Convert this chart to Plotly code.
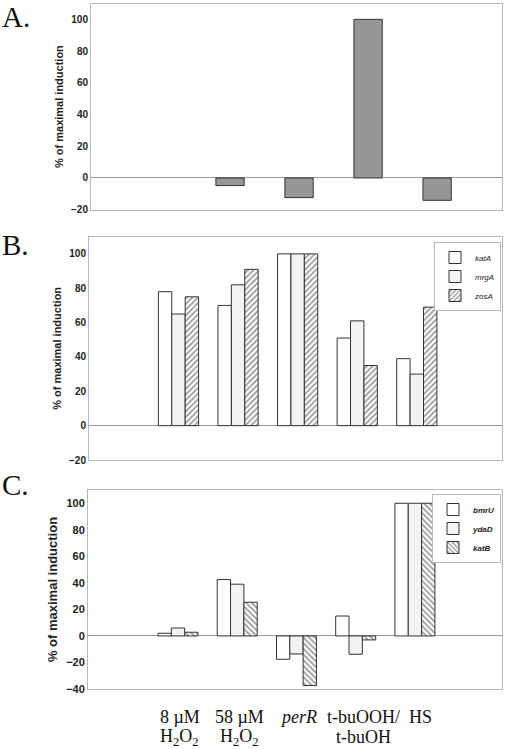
import plotly.graph_objects as go

categories = ["8 µM H2O2", "58 µM H2O2", "perR", "t-buOOH/t-buOH", "HS"]
label_line1 = ["8 µM", "58 µM", "<i>perR</i>", "t-buOOH/", "HS"]
label_line2 = ["H<sub>2</sub>O<sub>2</sub>", "H<sub>2</sub>O<sub>2</sub>", "", "t-buOH", ""]

# Panel A
a_values = [None, -4.8, -12.4, 100, -14.1]

# Panel B
b_katA = [78, 70, 100, 51, 39]
b_mrgA = [65, 82, 100, 61, 30]
b_zosA = [75, 91, 100, 35, 69]

# Panel C
c_bmrU = [2, 42.5, -17.6, 15, 100]
c_ydaD = [6, 39, -13.6, -13.8, 100]
c_katB = [2.8, 25.4, -37.4, -3, 100]

W, H = 507, 749
def xd(a, b):
    return [a / W, b / W]
def yd(top, bottom):
    return [1 - bottom / H, 1 - top / H]

fig = go.Figure()
outline = dict(color="#333333", width=1)

fig.add_trace(go.Bar(x=categories, y=a_values, xaxis="x", yaxis="y",
                     marker=dict(color="#969696", line=outline),
                     width=0.41, showlegend=False))

bw = 0.225
specs_b = [("<i>katA</i>", b_katA, dict(color="white", line=outline)),
           ("<i>mrgA</i>", b_mrgA, dict(color="#f3f3f3", line=outline)),
           ("<i>zosA</i>", b_zosA, dict(color="white", line=outline,
                                        pattern=dict(shape="/", fgcolor="#333333", bgcolor="white",
                                                     size=4, solidity=0.45)))]
for i, (name, vals, mk) in enumerate(specs_b):
    fig.add_trace(go.Bar(x=categories, y=vals, name=name, xaxis="x2", yaxis="y2",
                         marker=mk, width=bw, offset=-1.5 * bw + i * bw, legend="legend"))

specs_c = [("<b><i>bmrU</i></b>", c_bmrU, dict(color="white", line=outline)),
           ("<b><i>ydaD</i></b>", c_ydaD, dict(color="#f3f3f3", line=outline)),
           ("<b><i>katB</i></b>", c_katB, dict(color="white", line=outline,
                                              pattern=dict(shape="\\", fgcolor="#333333", bgcolor="white",
                                                           size=4, solidity=0.45)))]
for i, (name, vals, mk) in enumerate(specs_c):
    fig.add_trace(go.Bar(x=categories, y=vals, name=name, xaxis="x3", yaxis="y3",
                         marker=mk, width=bw, offset=-1.5 * bw + i * bw, legend="legend2"))

tickfont = dict(family="Liberation Sans, Arial", size=10, color="#222222", weight="bold")
titlefont = dict(family="Liberation Sans, Arial", size=11, color="#222222", weight="bold")
frame = dict(showline=True, mirror=True, linecolor="#b8b8b8", linewidth=1, showgrid=False,
             automargin=False)

def yax(dom, rng, tv, anchor, tf=tickfont, ttf=titlefont):
    return dict(domain=dom, range=rng, tickvals=tv, anchor=anchor, ticks="",
                tickfont=tf, zeroline=True, zerolinecolor="#9a9a9a", zerolinewidth=1,
                title=dict(text="% of maximal induction", font=ttf, standoff=5), **frame)

def xax(dom, rng, anchor):
    return dict(domain=dom, range=rng, anchor=anchor, type="category", ticks="",
                categoryorder="array", categoryarray=categories,
                showticklabels=False, **frame)

legfont = dict(family="Liberation Sans, Arial", size=8, color="#222222")
fig.update_layout(
    width=W, height=H, margin=dict(l=0, r=0, t=0, b=0, autoexpand=False),
    paper_bgcolor="white", plot_bgcolor="white", barmode="overlay",
    xaxis=xax(xd(91, 502), [-1.014, 4.94], "y"),
    yaxis=yax(yd(3.5, 209.7), [-20, 110], [-20, 0, 20, 40, 60, 80, 100], "x"),
    xaxis2=xax(xd(89, 502), [-1.502, 5.43], "y2"),
    yaxis2=yax(yd(236.7, 460), [-20, 110], [-20, 0, 20, 40, 60, 80, 100], "x2"),
    xaxis3=xax(xd(88, 502), [-1.519, 5.47], "y3"),
    yaxis3=yax(yd(490, 689), [-40, 110], [-40, -20, 0, 20, 40, 60, 80, 100], "x3",
               tf=dict(tickfont, size=11), ttf=dict(titlefont, size=13)),
    legend=dict(x=501 / W, y=1 - 242 / H, xanchor="right", yanchor="top",
                bordercolor="#b8b8b8", borderwidth=1, bgcolor="white",
                font=legfont, tracegroupgap=0, itemwidth=30),
    legend2=dict(x=501 / W, y=1 - 494 / H, xanchor="right", yanchor="top",
                 bordercolor="#b8b8b8", borderwidth=1, bgcolor="white",
                 font=legfont, tracegroupgap=0, itemwidth=30),
)

labfont = dict(family="Liberation Serif, Times New Roman", size=18, color="#111111")
label_xshift = {"t-buOOH/t-buOH": 8, "HS": 6}
for cat, l1, l2 in zip(categories, label_line1, label_line2):
    sh = label_xshift.get(cat, 2)
    fig.add_annotation(text=l1, xref="x3", yref="paper", x=cat, y=1 - 717 / H, xshift=sh,
                       xanchor="center", yanchor="middle", showarrow=False, font=labfont)
    if l2:
        fig.add_annotation(text=l2, xref="x3", yref="paper", x=cat, y=1 - 737 / H, xshift=sh,
                           xanchor="center", yanchor="middle", showarrow=False, font=labfont)

for letter, ypx in [("A.", 17), ("B.", 245), ("C.", 485)]:
    fig.add_annotation(text=letter, xref="paper", yref="paper", x=0, y=1 - ypx / H,
                       xanchor="left", yanchor="middle", showarrow=False,
                       font=dict(family="Liberation Serif, Times New Roman", size=29, color="#111111"))

fig.write_html("out.html", config={"displayModeBar": False},
               post_script="document.body.style.margin='0';document.body.style.overflow='hidden';")
